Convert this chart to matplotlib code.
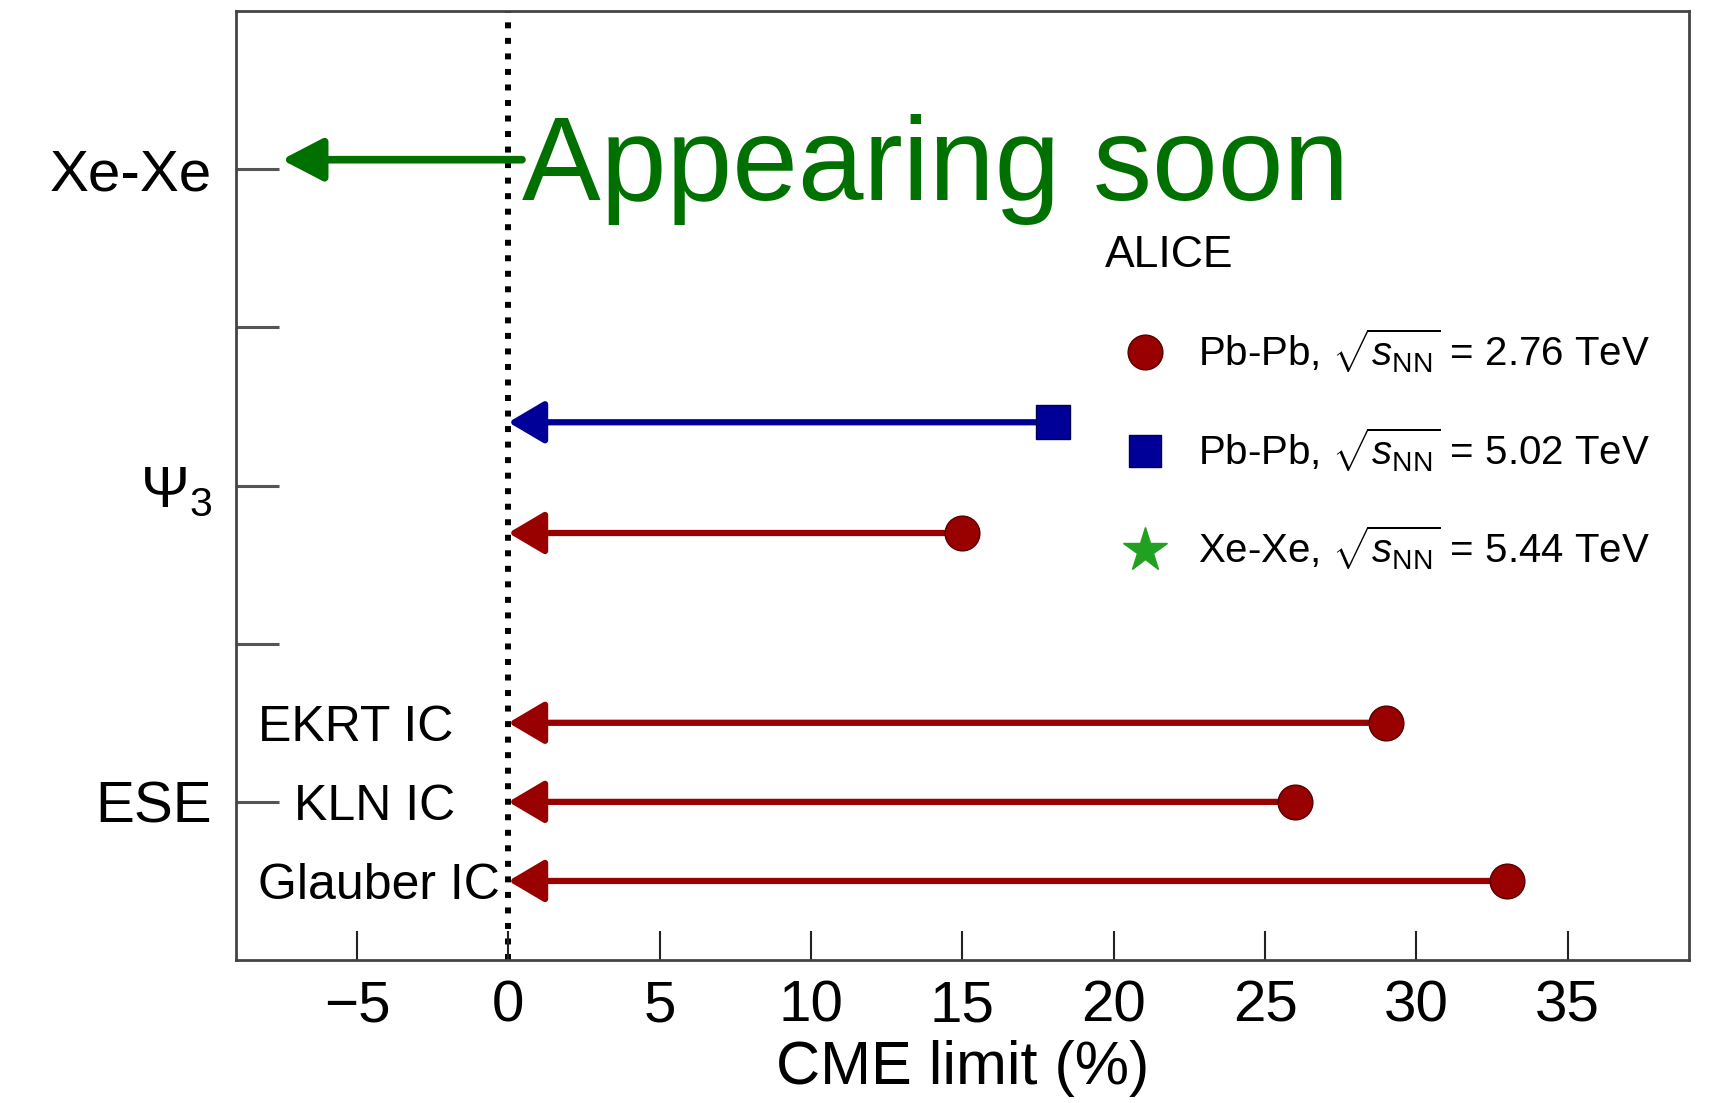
import matplotlib
matplotlib.use("Agg")
import matplotlib.pyplot as plt
from matplotlib.lines import Line2D

plt.rcParams['font.family'] = ['Liberation Sans', 'DejaVu Sans']
plt.rcParams['mathtext.fontset'] = 'custom'
plt.rcParams['mathtext.rm'] = 'Liberation Sans'
plt.rcParams['mathtext.it'] = 'Liberation Sans:italic'
plt.rcParams['mathtext.bf'] = 'Liberation Sans:bold'

# rows of the plot (y position of each group)
group_labels = ['ESE', r'$\Psi_3$', 'Xe-Xe']
group_pos = [0, 1, 2]

# ESE initial-condition models, Pb-Pb 2.76 TeV
ese_models = ['EKRT IC', 'KLN IC', 'Glauber IC']
ese_y = [0.25, 0.0, -0.25]
ese_limit = [29, 26, 33]

# Psi_3 results
psi3_276_y = [0.85]
psi3_276_limit = [15]
psi3_502_y = [1.2]
psi3_502_limit = [18]

legend_labels = [
    r'Pb-Pb, $\sqrt{s_{\rm NN}}$ = 2.76 TeV',
    r'Pb-Pb, $\sqrt{s_{\rm NN}}$ = 5.02 TeV',
    r'Xe-Xe, $\sqrt{s_{\rm NN}}$ = 5.44 TeV',
]

red = '#990000'
blue = '#000099'
green = '#22a022'

fig = plt.figure(figsize=(17.16, 11.03), dpi=100)
ax = fig.add_axes([0.1375, 0.1296, 0.8467, 0.8604])
ax.set_xlim(-9, 39)
ax.set_ylim(-0.5, 2.5)

# zero line
ax.axvline(0, color='black', lw=4.3, linestyle=(0, (1, 1.6)), zorder=1)


def limit_arrows(ys, limits, color, marker):
    for y, lim in zip(ys, limits):
        ax.annotate('', xy=(0, y), xytext=(lim, y),
                    arrowprops=dict(arrowstyle='-|>,head_length=22,head_width=13',
                                    mutation_scale=1, lw=4.5, color=color,
                                    shrinkA=0, shrinkB=0),
                    zorder=3)
    ax.plot(limits, ys, linestyle='none', marker=marker, ms=25,
            color=color, mec='#550000' if color == red else '#000055',
            mew=1, zorder=4)


limit_arrows(ese_y, ese_limit, red, 'o')
limit_arrows(psi3_276_y, psi3_276_limit, red, 'o')
limit_arrows(psi3_502_y, psi3_502_limit, blue, 's')

# model names next to the ESE arrows
ax.text(-8.28, ese_y[0], ese_models[0], fontsize=36, va='center_baseline', ha='left')
ax.text(-7.09, ese_y[1], ese_models[1], fontsize=36, va='center_baseline', ha='left')
ax.text(-8.28, ese_y[2], ese_models[2], fontsize=36, va='center_baseline', ha='left')

# axes styling
for sp in ax.spines.values():
    sp.set_color('#444444')
    sp.set_linewidth(2)

ax.set_xticks(range(-5, 40, 5))
ax.set_yticks(group_pos)
ax.set_yticklabels(group_labels)
ax.set_yticks([0.5, 1.5], minor=True)
ax.tick_params(axis='x', direction='in', length=21, width=1.5, color='#222222',
               labelsize=42, pad=14, top=False)
ax.tick_params(axis='y', which='both', direction='in', length=31, width=2.2,
               color='#555555', labelsize=42, pad=17, right=False)
ax.set_xlabel('CME limit (%)', fontsize=44, labelpad=5)

# legend
handles = [
    Line2D([], [], linestyle='none', marker='o', ms=25, color=red, mec='#550000'),
    Line2D([], [], linestyle='none', marker='s', ms=23, color=blue, mec='#000055'),
    Line2D([], [], linestyle='none', marker='*', ms=33, color=green, mec=green),
]
leg = ax.legend(handles, legend_labels, title='ALICE', title_fontsize=32,
                fontsize=29, frameon=False, alignment='left',
                handlelength=2.0, handletextpad=0.3, labelspacing=1.25,
                loc='upper left', bbox_to_anchor=(1105 / 1716, 1 - 235 / 1103),
                bbox_transform=fig.transFigure, borderpad=0, borderaxespad=0)

# note about the Xe-Xe row
ax.annotate('', xy=(-7.49, 2.03), xytext=(0.45, 2.03),
            arrowprops=dict(arrowstyle='-|>,head_length=25,head_width=13',
                            mutation_scale=1, lw=5.5, color='#007000',
                            shrinkA=0, shrinkB=0), zorder=5)
ax.text(0.45, 1.903, 'Appearing soon', fontsize=85, color='#007000',
        va='baseline', ha='left', zorder=5)

fig.savefig('out.png', dpi=100)
